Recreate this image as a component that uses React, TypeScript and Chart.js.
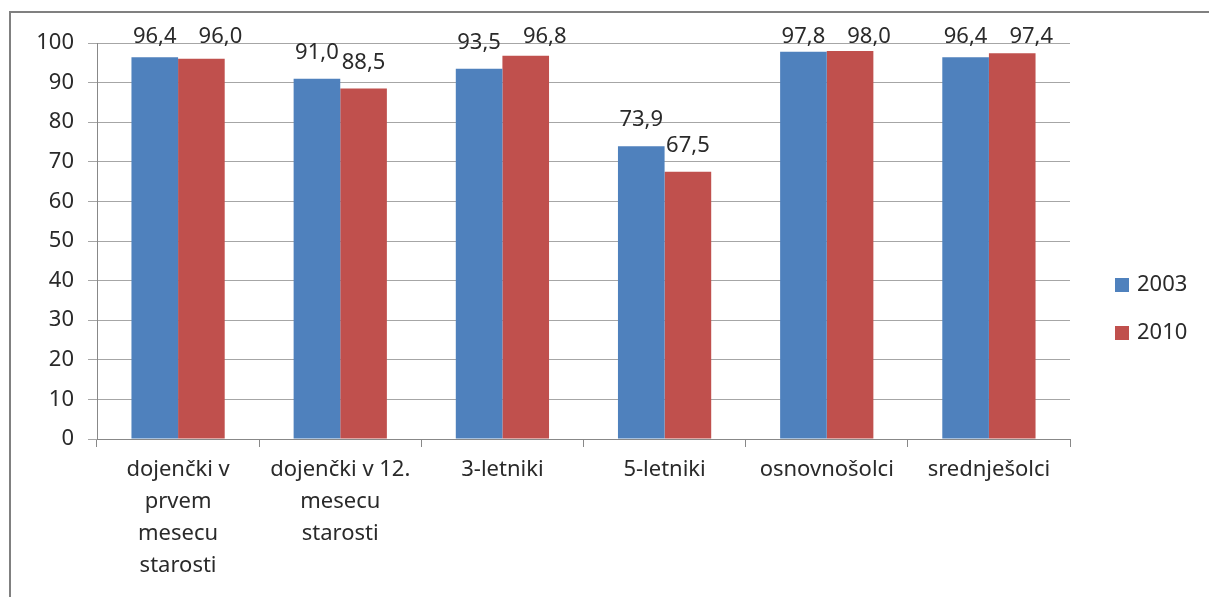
import React, { useEffect, useRef } from "react";
import { Chart, registerables } from "chart.js";

Chart.register(...registerables);

const categories: string[][] = [
  ["dojenčki v", "prvem", "mesecu", "starosti"],
  ["dojenčki v 12.", "mesecu", "starosti"],
  ["3-letniki"],
  ["5-letniki"],
  ["osnovnošolci"],
  ["srednješolci"],
];
const seriesNames = ["2003", "2010"];
const values2003 = [96.4, 91.0, 93.5, 73.9, 97.8, 96.4];
const values2010 = [96.0, 88.5, 96.8, 67.5, 98.0, 97.4];
const colors = ["#4F81BD", "#C0504D"];
const yTicksMax = 100;
const yTicksStep = 10;

const FONT = "'Noto Sans', 'Open Sans', sans-serif";
const TEXT = "#2a2a2a";

const decorPlugin = {
  id: "decor",
  beforeDraw(chart: any) {
    const ctx = chart.ctx;
    ctx.save();
    ctx.fillStyle = "#ffffff";
    ctx.fillRect(0, 0, chart.width, chart.height);
    ctx.strokeStyle = "#808080";
    ctx.lineWidth = 2;
    ctx.strokeRect(10, 12, chart.width + 20, chart.height + 20);
    ctx.restore();
  },
  afterDatasetsDraw(chart: any) {
    const ctx = chart.ctx;
    ctx.save();
    ctx.font = `22px ${FONT}`;
    ctx.fillStyle = TEXT;
    ctx.textAlign = "center";
    ctx.textBaseline = "alphabetic";
    chart.data.datasets.forEach((ds: any, i: number) => {
      const meta = chart.getDatasetMeta(i);
      meta.data.forEach((el: any, j: number) => {
        const v = ds.data[j] as number;
        const raw = el.y - 20;
        const clamped = raw < 43;
        const y = clamped ? 43 : raw;
        const x = clamped && i === 1 ? el.x + 19 : el.x;
        ctx.fillText(v.toFixed(1).replace(".", ","), x, y);
      });
    });
    // legend
    const lx = 1115;
    const ly = [285, 333];
    chart.data.datasets.forEach((ds: any, i: number) => {
      ctx.fillStyle = ds.backgroundColor;
      ctx.fillRect(lx, ly[i] - 7, 14, 14);
      ctx.fillStyle = TEXT;
      ctx.textAlign = "left";
      ctx.textBaseline = "middle";
      ctx.fillText(ds.label, lx + 22, ly[i]);
    });
    ctx.restore();
  },
};

export default function App() {
  const ref = useRef<HTMLCanvasElement | null>(null);
  useEffect(() => {
    document.body.style.margin = "0";
    const chart = new Chart(ref.current as HTMLCanvasElement, {
      type: "bar",
      data: {
        labels: categories as any,
        datasets: [
          { label: seriesNames[0], data: values2003, backgroundColor: colors[0] },
          { label: seriesNames[1], data: values2010, backgroundColor: colors[1] },
        ],
      },
      options: {
        animation: false,
        responsive: false,
        layout: { padding: { top: 43, right: 139, left: 0, bottom: 0 } },
        datasets: {
          bar: { categoryPercentage: 0.575, barPercentage: 1 },
        },
        plugins: {
          legend: { display: false },
          tooltip: { enabled: false },
        },
        scales: {
          x: {
            grid: {
              drawOnChartArea: false,
              drawTicks: true,
              tickLength: 8,
              color: "#888888",
              offset: true,
            },
            border: { color: "#888888" },
            ticks: {
              autoSkip: false,
              maxRotation: 0,
              minRotation: 0,
              padding: 7,
              color: TEXT,
              font: { family: FONT, size: 22, lineHeight: 1.45 },
            },
            afterFit(scale: any) {
              scale.height = 158;
            },
          },
          y: {
            min: 0,
            max: yTicksMax,
            ticks: {
              stepSize: yTicksStep,
              color: TEXT,
              padding: 14,
              font: { family: FONT, size: 22 },
            },
            grid: { color: "#a6a6a6", tickLength: 9 },
            border: { color: "#888888" },
            afterFit(scale: any) {
              scale.width = 97;
            },
          },
        },
      },
      plugins: [decorPlugin],
    });
    return () => chart.destroy();
  }, []);
  return (
    <div style={{ width: 1209, height: 597 }}>
      <canvas ref={ref} width={1209} height={597} style={{ display: "block" }} />
    </div>
  );
}
